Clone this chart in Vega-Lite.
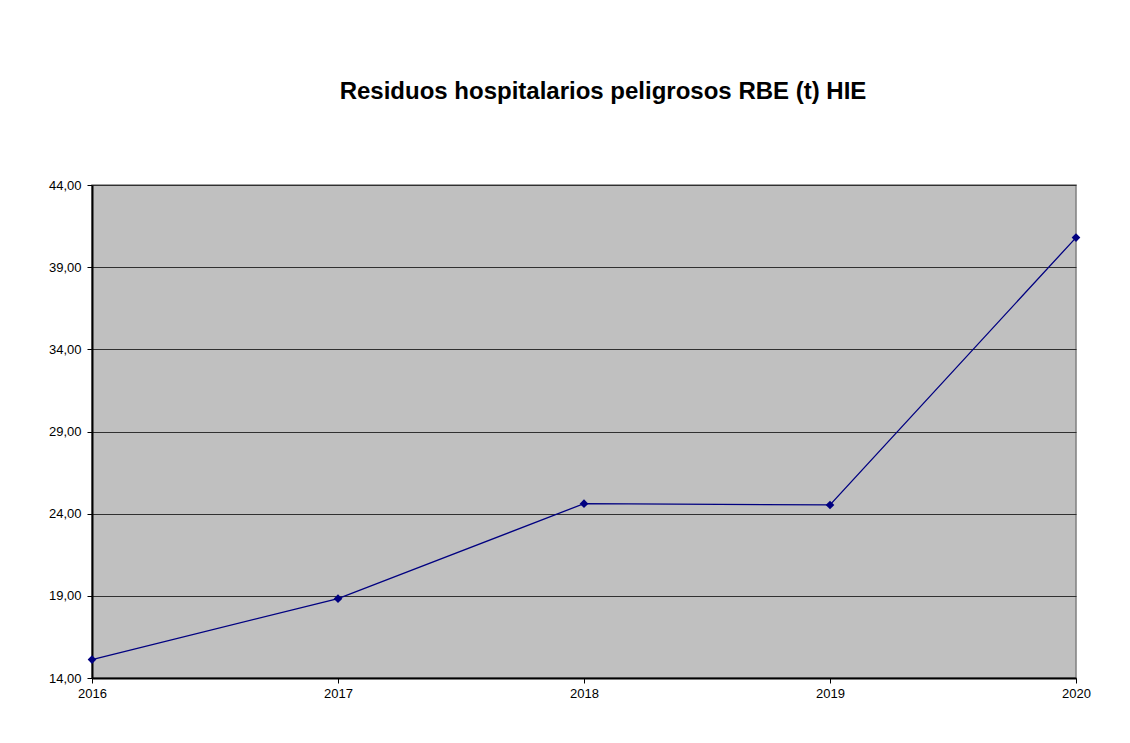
{
  "$schema": "https://vega.github.io/schema/vega-lite/v6.json",
  "width": 984,
  "height": 493,
  "autosize": {"type": "none"},
  "padding": {"left": 92, "top": 185, "right": 54, "bottom": 65},
  "background": "white",
  "title": {
    "text": "Residuos hospitalarios peligrosos RBE (t) HIE",
    "font": "Liberation Sans",
    "fontSize": 24,
    "fontWeight": "bold",
    "color": "black",
    "anchor": "middle",
    "dx": 19,
    "offset": 75
  },
  "config": {
    "font": "Liberation Sans",
    "view": {"fill": "#c0c0c0", "stroke": "#808080", "strokeWidth": 1.5}
  },
  "data": {
    "values": [
      {"year": 2016, "value": 15.12},
      {"year": 2017, "value": 18.83},
      {"year": 2018, "value": 24.61},
      {"year": 2019, "value": 24.53},
      {"year": 2020, "value": 40.80}
    ]
  },
  "encoding": {
    "x": {
      "field": "year",
      "type": "quantitative",
      "scale": {"domain": [2016, 2020], "nice": false, "zero": false},
      "axis": {
        "title": null,
        "values": [2016, 2017, 2018, 2019, 2020],
        "format": "d",
        "grid": false,
        "domainColor": "black",
        "domainWidth": 2,
        "tickColor": "black",
        "tickSize": 5,
        "tickWidth": 1,
        "labelFont": "Liberation Sans",
        "labelFontSize": 13,
        "labelColor": "black",
        "labelPadding": 4,
        "labelFlush": false,
        "labelOverlap": false,
        "labelBound": false
      }
    },
    "y": {
      "field": "value",
      "type": "quantitative",
      "scale": {"domain": [14, 44], "nice": false, "zero": false},
      "axis": {
        "title": null,
        "values": [14, 19, 24, 29, 34, 39, 44],
        "labelExpr": "replace(format(datum.value, '.2f'), '.', ',')",
        "grid": true,
        "gridColor": "#303030",
        "gridWidth": 1.2,
        "domainColor": "black",
        "domainWidth": 2,
        "tickColor": "black",
        "tickSize": 5,
        "tickWidth": 1,
        "labelFont": "Liberation Sans",
        "labelFontSize": 13,
        "labelColor": "black",
        "labelPadding": 6,
        "labelFlush": false,
        "labelOverlap": false,
        "labelBound": false
      }
    }
  },
  "layer": [
    {"mark": {"type": "line", "color": "#000080", "strokeWidth": 1.3}},
    {"mark": {"type": "point", "shape": "diamond", "filled": true, "color": "#000080", "size": 75, "opacity": 1}}
  ]
}
